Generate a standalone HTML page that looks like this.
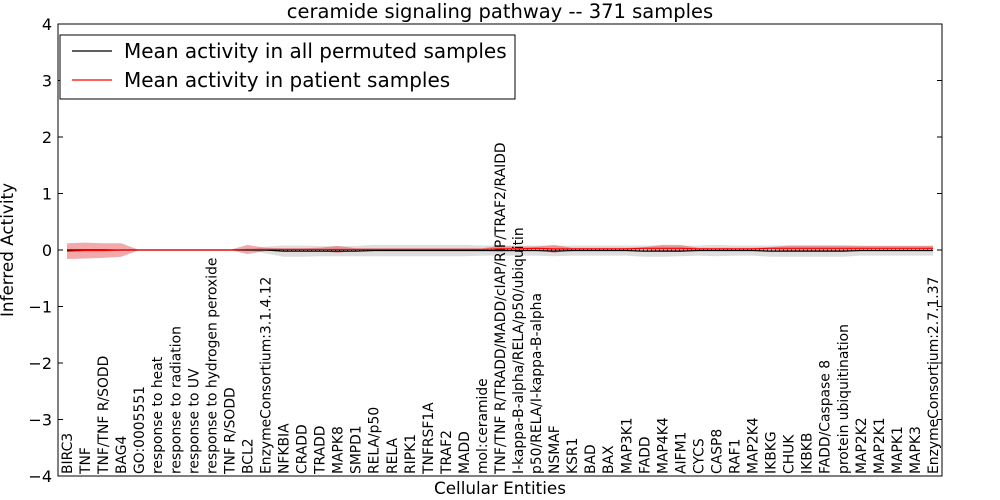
<!DOCTYPE html>
<html><head><meta charset="utf-8"><style>
html,body{margin:0;padding:0;background:#fff;}
svg{display:block;font-family:"DejaVu Sans","Liberation Sans",sans-serif;}
</style></head><body>
<svg id="chart" width="1000" height="500">
<text x="500" y="18" text-anchor="middle" font-size="19.5">ceramide signaling pathway -- 371 samples</text>
<text x="500" y="494" text-anchor="middle" font-size="16.8">Cellular Entities</text>
<text transform="translate(13,250) rotate(-90)" text-anchor="middle" font-size="16.8">Inferred Activity</text>
<g id="plot"></g>
<g>
<rect x="60" y="35" width="455" height="64" fill="#fff" stroke="#000" stroke-width="1"/>
<g><line x1="72" y1="51" x2="112" y2="51" stroke="#000" stroke-width="1.2"/><text x="124" y="58" font-size="20">Mean activity in all permuted samples</text></g>
<g><line x1="72" y1="80" x2="112" y2="80" stroke="red" stroke-width="1.2"/><text x="124" y="87" font-size="20">Mean activity in patient samples</text></g>
</g>
</svg>
<script>
const categories=["BIRC3","TNF","TNF/TNF R/SODD","BAG4","GO:0005551","response to heat","response to radiation","response to UV","response to hydrogen peroxide","TNF R/SODD","BCL2","EnzymeConsortium:3.1.4.12","NFKBIA","CRADD","TRADD","MAPK8","SMPD1","RELA/p50","RELA","RIPK1","TNFRSF1A","TRAF2","MADD","mol:ceramide","TNF/TNF R/TRADD/MADD/cIAP/RIP/TRAF2/RAIDD","I-kappa-B-alpha/RELA/p50/ubiquitin","p50/RELA/I-kappa-B-alpha","NSMAF","KSR1","BAD","BAX","MAP3K1","FADD","MAP4K4","AIFM1","CYCS","CASP8","RAF1","MAP2K4","IKBKG","CHUK","IKBKB","FADD/Caspase 8","protein ubiquitination","MAP2K2","MAP2K1","MAPK1","MAPK3","EnzymeConsortium:2.7.1.37"];
const patientMean=[-0.02,-0.01,-0.01,0,0,0,0,0,0,0,0.01,0.01,0.01,0.01,0.01,0.01,0.01,0.01,0.01,0.01,0.01,0.01,0.01,0.01,0.02,0.02,0.03,0.02,0.02,0.02,0.02,0.02,0.03,0.03,0.03,0.02,0.02,0.02,0.02,0.03,0.03,0.03,0.03,0.03,0.03,0.03,0.03,0.03,0.03];
const patientSpread=[0.14,0.14,0.13,0.12,0,0,0,0,0,0,0.08,0.03,0.02,0.02,0.03,0.06,0.02,0.02,0.02,0.02,0.02,0.02,0.02,0.02,0.05,0.04,0.03,0.07,0.02,0.02,0.02,0.02,0.02,0.06,0.06,0.02,0.02,0.02,0.02,0.02,0.05,0.05,0.05,0.05,0.04,0.04,0.04,0.04,0.04];
const permMean=[0,0,0,0,0,0,0,0,0,0,0,0,-0.02,-0.02,-0.02,-0.02,-0.02,-0.01,-0.01,-0.01,-0.01,-0.01,-0.01,-0.01,-0.01,-0.01,-0.01,-0.02,-0.01,-0.01,-0.01,-0.01,-0.02,-0.02,-0.02,-0.01,-0.01,-0.01,-0.01,-0.02,-0.02,-0.02,-0.02,-0.02,-0.01,-0.01,-0.01,-0.01,-0.01];
const permSpread=[0,0,0,0,0,0,0,0,0,0,0,0.06,0.1,0.1,0.09,0.09,0.09,0.1,0.1,0.1,0.1,0.1,0.1,0.09,0.09,0.09,0.09,0.09,0.09,0.09,0.09,0.09,0.1,0.1,0.09,0.09,0.1,0.09,0.09,0.1,0.1,0.1,0.1,0.1,0.09,0.09,0.09,0.09,0.09];
const yTicks=[-4,-3,-2,-1,0,1,2,3,4];
const L=58,R=942,T=24,B=476,n=categories.length;
const xs=i=>L+(i+0.5)*(R-L)/n;
const ys=v=>T+(4-v)*(B-T)/8;
const NS="http://www.w3.org/2000/svg";
const g=document.getElementById('plot');
function mk(tag,attrs){const e=document.createElementNS(NS,tag);for(const k in attrs)e.setAttribute(k,attrs[k]);g.appendChild(e);return e;}
function band(mean,spr){let up=mean.map((m,i)=>xs(i)+','+ys(m+spr[i]));let dn=mean.map((m,i)=>xs(i)+','+ys(m-spr[i])).reverse();return up.concat(dn).join(' ');}
let e;
e=mk('polygon',{points:band(permMean,permSpread),fill:'#bdbdbd','fill-opacity':0.5});


e=mk('polygon',{points:band(patientMean,patientSpread),fill:'#e34040','fill-opacity':0.45});


e=mk('line',{x1:xs(0),x2:xs(n-1),y1:ys(0),y2:ys(0),stroke:'#000','stroke-dasharray':'1,3','stroke-width':1});


e=mk('polyline',{points:permMean.map((m,i)=>xs(i)+','+ys(m)).join(' '),fill:'none',stroke:'#000','stroke-width':1.2});


e=mk('polyline',{points:patientMean.map((m,i)=>xs(i)+','+ys(m)).join(' '),fill:'none',stroke:'red','stroke-width':1.2});


e=mk('rect',{x:L,y:T,width:R-L,height:B-T,fill:'none',stroke:'#000','stroke-width':1});


yTicks.forEach(v=>{
  let t=mk('line',{x1:L,x2:L+5,y1:ys(v),y2:ys(v),stroke:'#000'});
  
  
  let t2=mk('line',{x1:R-5,x2:R,y1:ys(v),y2:ys(v),stroke:'#000'});
  
  
  let lb=mk('text',{x:L-6,y:ys(v)+6,'text-anchor':'end','font-size':16});
  lb.textContent=(v<0?'\u2212'+(-v):String(v));
  
  
});
categories.forEach((c,i)=>{
  let t=mk('text',{transform:`translate(${xs(i)+5},${B-2}) rotate(-90)`,'font-size':13.9});
  t.textContent=c;
  
  
});
</script>
</body></html>
